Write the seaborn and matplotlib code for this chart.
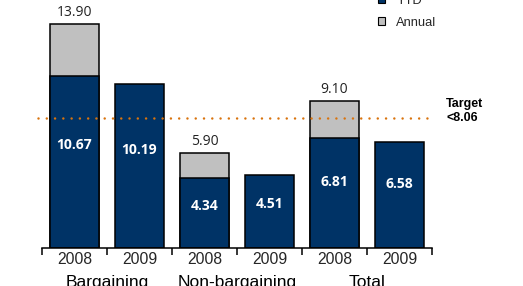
import numpy as np
import pandas as pd
import matplotlib
matplotlib.use("Agg")
import matplotlib.pyplot as plt
import seaborn as sns
from matplotlib.patches import Patch

# ---- data ----
groups = ["Bargaining", "Bargaining", "Non-bargaining", "Non-bargaining", "Total", "Total"]
years = ["2008", "2009", "2008", "2009", "2008", "2009"]
ytd = [10.67, 10.19, 4.34, 4.51, 6.81, 6.58]
annual = [13.90, np.nan, 5.90, np.nan, 9.10, np.nan]
target = 8.06
target_label = "Target\n<8.06"
group_names = ["Bargaining", "Non-bargaining", "Total"]

NAVY = "#003366"
GRAY = "#C0C0C0"
ORANGE = "#D9730D"

sns.set_theme(style="white")
plt.rcParams["font.family"] = ["Liberation Sans", "DejaVu Sans"]

df = pd.DataFrame({"key": [f"{g} {y}" for g, y in zip(groups, years)],
                   "ytd": ytd, "annual": annual})
order = list(df["key"])

fig = plt.figure(figsize=(5.23, 2.86), dpi=100)
ax = fig.add_axes([42 / 523, 1 - 248 / 286, (432 - 42) / 523, (248 - 6.5) / 286])

sns.barplot(data=df, x="key", y="annual", order=order, color=GRAY,
            edgecolor="black", linewidth=1.1, width=0.74, ax=ax, saturation=1)
sns.barplot(data=df, x="key", y="ytd", order=order, color=NAVY,
            edgecolor="black", linewidth=1.1, width=0.74, ax=ax, saturation=1)

ax.set_xlim(-0.5, 5.5)
ax.set_ylim(0, 15)
ax.set_xlabel("")
ax.set_ylabel("")
ax.set_yticks([])
for s in ["top", "right", "left"]:
    ax.spines[s].set_visible(False)
ax.spines["bottom"].set_color("black")
ax.spines["bottom"].set_linewidth(1.1)

ax.set_xticks(np.arange(-0.5, 6, 1.0))
ax.set_xticklabels([])
ax.tick_params(axis="x", which="major", direction="out", length=5, width=1.1,
               color="black", bottom=True)
ax.set_xticks(np.arange(6), minor=True)
ax.set_xticklabels(years, minor=True, fontsize=11.3)
ax.tick_params(axis="x", which="minor", length=0, pad=3)

# group labels
for i, g in enumerate(group_names):
    ax.text(2 * i + 0.5, -0.11, g, transform=ax.get_xaxis_transform(),
            ha="center", va="top", fontsize=12.5, color="black")

# value labels
for i, (a, v) in enumerate(zip(annual, ytd)):
    ax.text(i, v * 0.6, f"{v:.2f}", ha="center", va="center", color="white",
            fontsize=10, fontweight="bold", family="Open Sans")
    if not np.isnan(a):
        ax.text(i, a + 0.25, f"{a:.2f}", ha="center", va="bottom", color="#222222",
                fontsize=10, family="Open Sans")

# target line
ax.plot([-0.56, 5.45], [target, target], color=ORANGE, linewidth=1.8,
        linestyle=(0, (0.01, 3.3)), dash_capstyle="round", clip_on=False, zorder=5)
ax.text(5.72, target + 0.45, target_label, ha="left", va="center", fontsize=9,
        fontweight="bold", color="black", linespacing=1.3)

handles = [Patch(facecolor=NAVY, edgecolor="black", linewidth=0.8),
           Patch(facecolor=GRAY, edgecolor="black", linewidth=0.8)]
fig.legend(handles, ["YTD", "Annual"], loc="upper left",
           bbox_to_anchor=(366 / 523, 1 + 17 / 286), frameon=False,
           handlelength=0.55, handleheight=0.55, handletextpad=0.9,
           labelspacing=0.8, fontsize=9.3)

fig.savefig("out.png", dpi=100)
